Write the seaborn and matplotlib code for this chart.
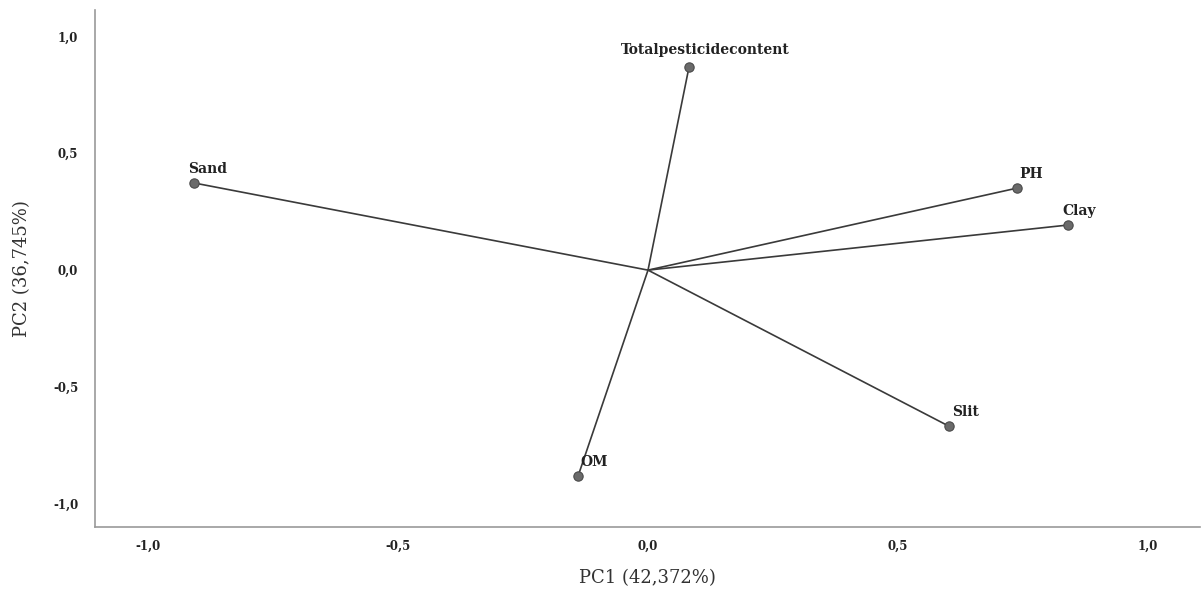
import pandas as pd
import matplotlib
matplotlib.use("Agg")
import matplotlib.pyplot as plt
import seaborn as sns
from matplotlib.ticker import FuncFormatter, MultipleLocator

# PCA loadings
variables = ["Totalpesticidecontent", "Sand", "PH", "Clay", "Slit", "OM"]
pc1 = [0.082, -0.908, 0.738, 0.840, 0.602, -0.140]
pc2 = [0.869, 0.373, 0.351, 0.193, -0.668, -0.882]

df = pd.DataFrame({"variable": variables, "pc1": pc1, "pc2": pc2})

sns.set_theme(style="white")
plt.rcParams["font.family"] = ["DejaVu Serif"]

fig = plt.figure(figsize=(12.03, 5.91), dpi=100)
ax = fig.add_axes([0.079, 0.108, 0.9185, 0.875])

# loading vectors from the origin
for _, r in df.iterrows():
    ax.plot([0, r.pc1], [0, r.pc2], color="#3a3a3a", lw=1.2, zorder=1)

sns.scatterplot(data=df, x="pc1", y="pc2", ax=ax, s=45, color="#6a6a6a",
                edgecolor="#4a4a4a", linewidth=0.8, zorder=2, legend=False)

# label placement (offset in points, alignment)
label_pos = {
    "Totalpesticidecontent": (12, 7, "center"),
    "Sand": (-4, 5, "left"),
    "PH": (2, 5, "left"),
    "Clay": (-4, 5, "left"),
    "Slit": (2, 5, "left"),
    "OM": (2, 5, "left"),
}
for _, r in df.iterrows():
    dx, dy, ha = label_pos[r.variable]
    ax.annotate(r.variable, (r.pc1, r.pc2), xytext=(dx, dy),
                textcoords="offset points", ha=ha, va="bottom",
                fontsize=10, fontweight="bold", color="#222222")

ax.set_xlim(-1.106, 1.104)
ax.set_ylim(-1.10, 1.113)
ax.xaxis.set_major_locator(MultipleLocator(0.5))
ax.yaxis.set_major_locator(MultipleLocator(0.5))
fmt = FuncFormatter(lambda v, p: f"{v:.1f}".replace(".", ",").replace("-0,0", "0,0"))
ax.xaxis.set_major_formatter(fmt)
ax.yaxis.set_major_formatter(fmt)
ax.tick_params(axis="both", length=0, labelsize=8.5, colors="#222222")
ax.tick_params(axis="x", pad=9)
ax.tick_params(axis="y", pad=12)
for t in ax.get_xticklabels() + ax.get_yticklabels():
    t.set_fontweight("bold")

ax.set_xlabel("PC1 (42,372%)", fontsize=13, color="#333333", labelpad=12)
ax.set_ylabel("PC2 (36,745%)", fontsize=13, color="#333333", labelpad=16)

for side in ["top", "right"]:
    ax.spines[side].set_visible(False)
for side in ["left", "bottom"]:
    ax.spines[side].set_color("#9a9a9a")
    ax.spines[side].set_linewidth(1.2)

fig.savefig("out.png", dpi=100, facecolor="white")
